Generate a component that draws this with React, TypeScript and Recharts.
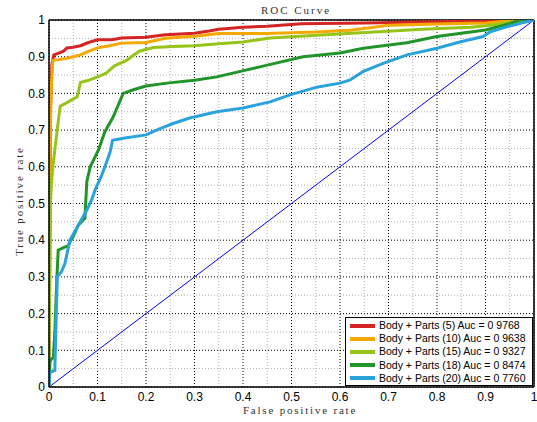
import { CartesianGrid, Line, LineChart, ReferenceLine, XAxis, YAxis } from "recharts";

const majorTicks = [0, 0.1, 0.2, 0.3, 0.4, 0.5, 0.6, 0.7, 0.8, 0.9, 1];
const minorTicks = [0.05, 0.15, 0.25, 0.35, 0.45, 0.55, 0.65, 0.75, 0.85, 0.95];

const redX = [0, 0.003, 0.006, 0.01, 0.02, 0.03, 0.037, 0.05, 0.065, 0.08, 0.1, 0.13, 0.15, 0.2, 0.24, 0.3, 0.33, 0.35, 0.4, 0.45, 0.52, 0.65, 0.8, 0.9, 0.94, 1];
const redY = [0, 0.75, 0.88, 0.905, 0.91, 0.915, 0.924, 0.926, 0.93, 0.938, 0.946, 0.946, 0.951, 0.953, 0.96, 0.964, 0.97, 0.975, 0.98, 0.983, 0.99, 0.992, 0.995, 0.998, 1, 1];

const orangeX = [0, 0.002, 0.004, 0.008, 0.02, 0.035, 0.05, 0.065, 0.08, 0.1, 0.125, 0.15, 0.2, 0.24, 0.3, 0.35, 0.45, 0.55, 0.62, 0.67, 0.7, 0.8, 0.9, 0.97, 1];
const orangeY = [0, 0.6, 0.8, 0.89, 0.892, 0.895, 0.9, 0.905, 0.914, 0.924, 0.93, 0.937, 0.939, 0.95, 0.956, 0.963, 0.963, 0.967, 0.972, 0.98, 0.986, 0.989, 0.992, 1, 1];

const limeX = [0, 0.003, 0.005, 0.008, 0.012, 0.016, 0.023, 0.037, 0.05, 0.058, 0.065, 0.08, 0.1, 0.118, 0.135, 0.16, 0.17, 0.186, 0.215, 0.256, 0.3, 0.35, 0.4, 0.456, 0.56, 0.68, 0.77, 0.87, 0.91, 0.95, 1];
const limeY = [0, 0.5, 0.555, 0.6, 0.646, 0.69, 0.765, 0.775, 0.785, 0.79, 0.83, 0.835, 0.845, 0.855, 0.875, 0.89, 0.9, 0.915, 0.925, 0.928, 0.93, 0.935, 0.94, 0.951, 0.959, 0.968, 0.975, 0.98, 0.986, 0.993, 1];

const greenX = [0, 0.002, 0.004, 0.009, 0.012, 0.016, 0.019, 0.03, 0.04, 0.043, 0.05, 0.06, 0.074, 0.078, 0.085, 0.102, 0.115, 0.132, 0.153, 0.174, 0.2, 0.243, 0.3, 0.346, 0.45, 0.524, 0.6, 0.648, 0.738, 0.8, 0.9, 0.95, 0.97, 1];
const greenY = [0, 0.068, 0.075, 0.08, 0.15, 0.29, 0.373, 0.38, 0.385, 0.395, 0.41, 0.44, 0.46, 0.56, 0.6, 0.646, 0.695, 0.735, 0.8, 0.81, 0.82, 0.828, 0.836, 0.845, 0.877, 0.9, 0.91, 0.923, 0.938, 0.955, 0.973, 0.99, 1, 1];

const blueX = [0, 0.002, 0.012, 0.017, 0.026, 0.033, 0.043, 0.06, 0.078, 0.088, 0.095, 0.109, 0.119, 0.126, 0.131, 0.153, 0.2, 0.23, 0.256, 0.29, 0.346, 0.4, 0.456, 0.497, 0.552, 0.6, 0.62, 0.648, 0.689, 0.738, 0.8, 0.847, 0.895, 0.91, 0.94, 0.97, 1];
const blueY = [0, 0.04, 0.045, 0.3, 0.315, 0.337, 0.4, 0.44, 0.482, 0.51, 0.537, 0.578, 0.614, 0.64, 0.672, 0.678, 0.687, 0.705, 0.718, 0.733, 0.75, 0.76, 0.777, 0.796, 0.817, 0.828, 0.836, 0.86, 0.882, 0.905, 0.923, 0.94, 0.955, 0.968, 0.98, 0.99, 1];

const chanceX = [0, 1];
const chanceY = [0, 1];

const toPoints = (xs: number[], ys: number[]) => xs.map((x, i) => ({ x, y: ys[i] }));

const series = [
  { name: "Body + Parts (5) Auc = 0 9768", color: "#d42424", data: toPoints(redX, redY) },
  { name: "Body + Parts (10) Auc = 0 9638", color: "#f5a800", data: toPoints(orangeX, orangeY) },
  { name: "Body + Parts (15) Auc = 0 9327", color: "#96c41a", data: toPoints(limeX, limeY) },
  { name: "Body + Parts (18) Auc = 0 8474", color: "#21952a", data: toPoints(greenX, greenY) },
  { name: "Body + Parts (20) Auc = 0 7760", color: "#2aa3dc", data: toPoints(blueX, blueY) },
];

const fmt = (v: number) => (v === 0 || v === 1 ? String(v) : v.toFixed(1));

const serif = "'Liberation Serif', serif";
const sans = "'Liberation Sans', Arial, sans-serif";

const LegendBox = () => (
  <div
    style={{
      position: "absolute",
      left: 345,
      top: 317,
      width: 188,
      height: 69,
      background: "#fff",
      border: "1px solid #000",
      padding: "1px 4px",
      fontFamily: sans,
      fontSize: 10.5,
      lineHeight: "13.2px",
      boxSizing: "border-box",
    }}
  >
    {series.map((s) => (
      <div key={s.name} style={{ display: "flex", alignItems: "center", whiteSpace: "nowrap" }}>
        <span style={{ display: "inline-block", width: 25, height: 4, background: s.color, marginRight: 4 }} />
        <span>{s.name}</span>
      </div>
    ))}
  </div>
);

export default function App() {
  return (
    <div style={{ position: "absolute", left: 0, top: 0, width: 537, height: 422, background: "#fff" }}>
      <LineChart width={537} height={422} margin={{ top: 20, right: 3, left: 0, bottom: 0 }}>
        <CartesianGrid stroke="#000" strokeDasharray="1 2" />
        {minorTicks.map((t) => (
          <ReferenceLine key={`mx${t}`} x={t} stroke="#b0b0b0" strokeDasharray="1 2" />
        ))}
        {minorTicks.map((t) => (
          <ReferenceLine key={`my${t}`} y={t} stroke="#b0b0b0" strokeDasharray="1 2" />
        ))}
        <ReferenceLine x={1} stroke="#000" strokeWidth={1.5} />
        <ReferenceLine y={1} stroke="#000" strokeWidth={1.5} />
        <XAxis
          type="number"
          dataKey="x"
          domain={[0, 1]}
          ticks={majorTicks}
          tickFormatter={fmt}
          height={35}
          tickSize={0}
          tickMargin={5}
          tick={{ fill: "#000", fontSize: 12, fontFamily: sans }}
          axisLine={{ stroke: "#000", strokeWidth: 1.5 }}
          allowDataOverflow
        />
        <YAxis
          type="number"
          dataKey="y"
          domain={[0, 1]}
          ticks={majorTicks}
          tickFormatter={fmt}
          width={49}
          tickSize={0}
          tickMargin={4}
          tick={{ fill: "#000", fontSize: 12, fontFamily: sans }}
          axisLine={{ stroke: "#000", strokeWidth: 1.5 }}
          allowDataOverflow
        />
        <Line
          data={toPoints(chanceX, chanceY)}
          dataKey="y"
          stroke="#0000ff"
          strokeWidth={1}
          dot={false}
          legendType="none"
          isAnimationActive={false}
        />
        {series.map((s) => (
          <Line
            key={s.name}
            data={s.data}
            dataKey="y"
            name={s.name}
            stroke={s.color}
            strokeWidth={3}
            dot={false}
            isAnimationActive={false}
          />
        ))}
        <text x={296} y={14} textAnchor="middle" fontFamily={serif} fontSize={11} letterSpacing={2} fill="#333">
          ROC Curve
        </text>
        <text x={300} y={414} textAnchor="middle" fontFamily={serif} fontSize={11} letterSpacing={1.8} fill="#333">
          False positive rate
        </text>
        <text
          x={20}
          y={201}
          textAnchor="middle"
          fontFamily={serif}
          fontSize={11}
          letterSpacing={1.8}
          fill="#333"
          transform="rotate(-90 20 201)"
          dominantBaseline="middle"
        >
          True positive rate
        </text>
      </LineChart>
      <LegendBox />
    </div>
  );
}
